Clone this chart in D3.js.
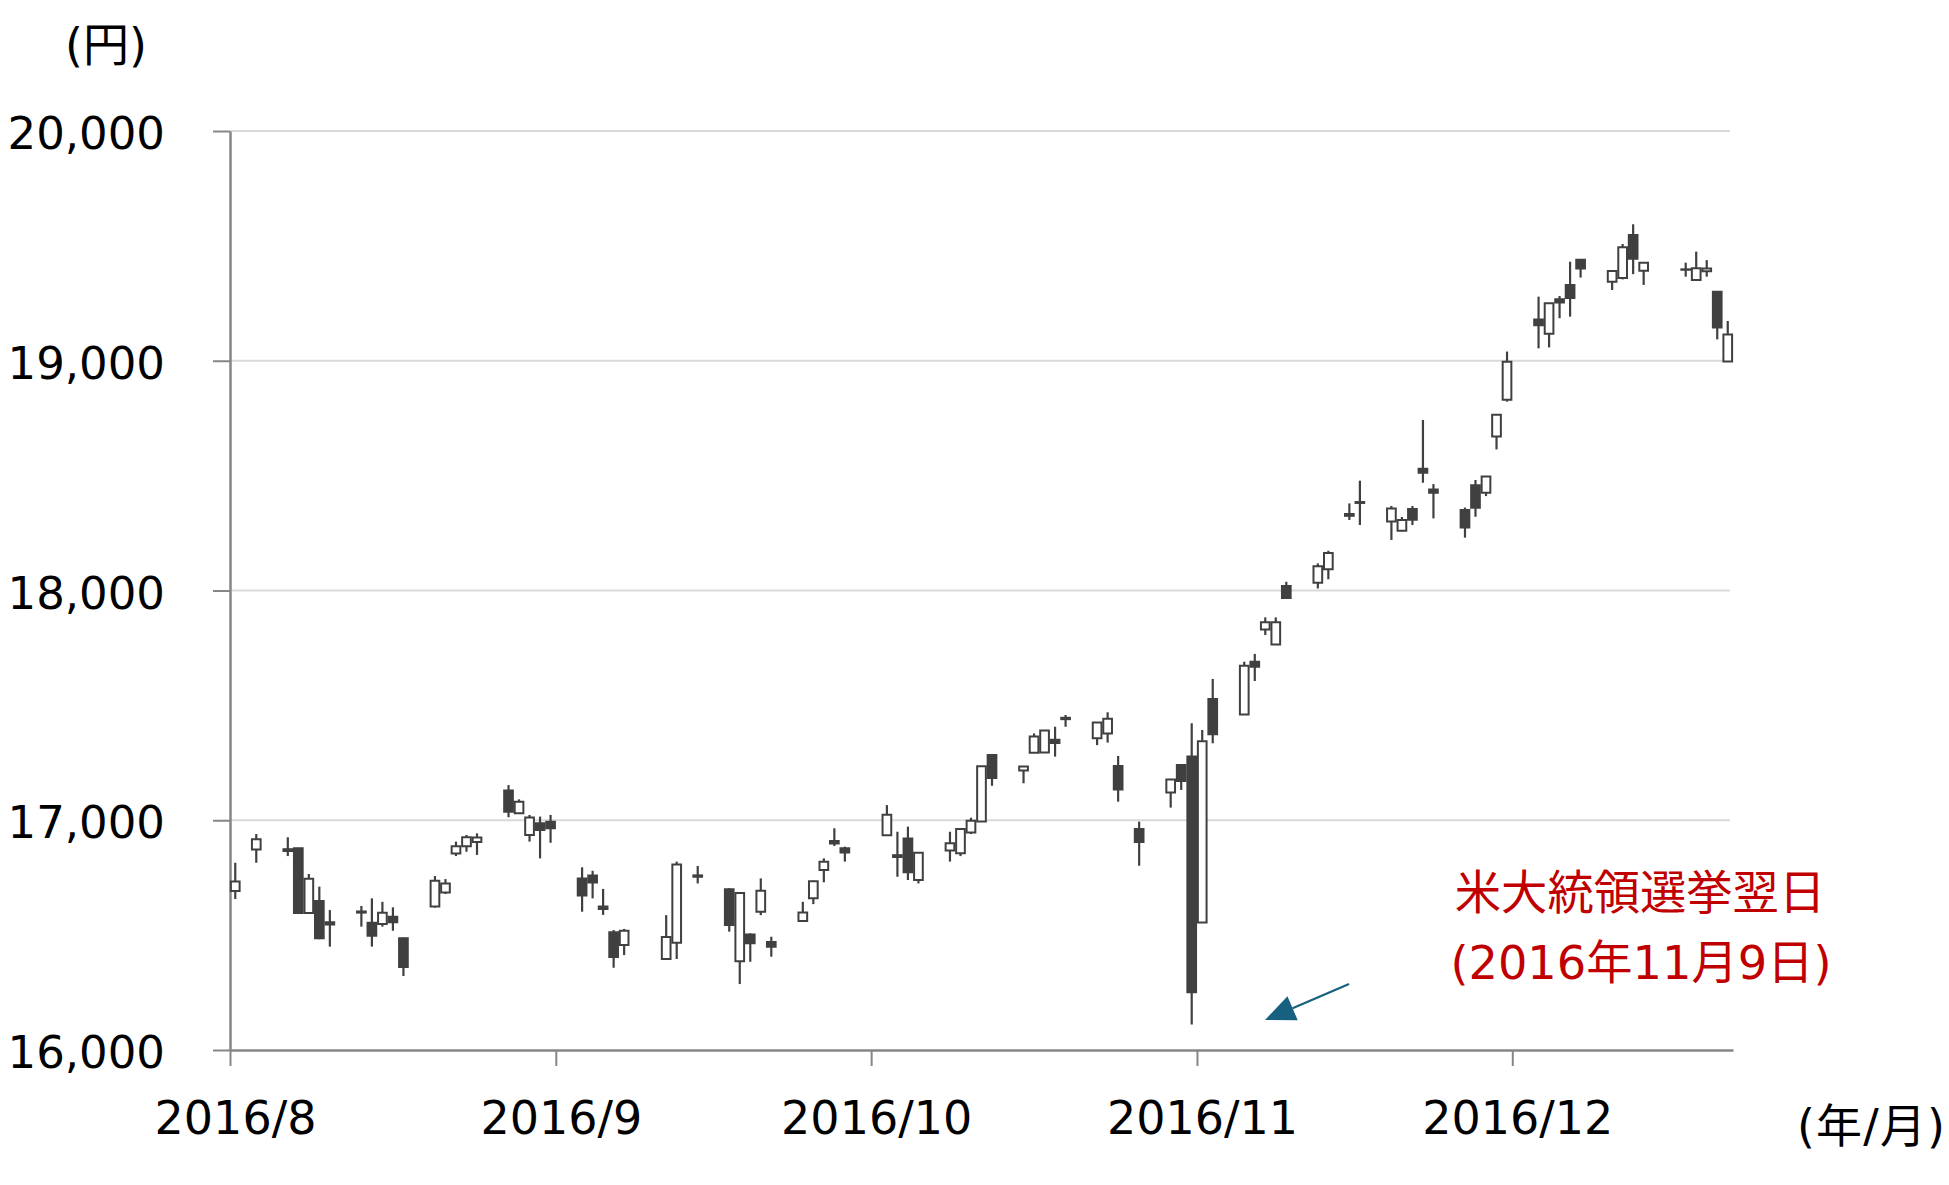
<!DOCTYPE html>
<html><head><meta charset="utf-8">
<script src="https://cdn.jsdelivr.net/npm/d3@7"></script>
<style>body{margin:0;background:#fff}svg{display:block}</style>
</head><body>
<svg id="chart" width="1949" height="1185"></svg>
<script>
// ---- data (Nikkei 225 daily OHLC) ----
const dates = [
"2016-08-10","2016-08-12","2016-08-15","2016-08-16","2016-08-17","2016-08-18","2016-08-19",
"2016-08-22","2016-08-23","2016-08-24","2016-08-25","2016-08-26","2016-08-29","2016-08-30","2016-08-31",
"2016-09-01","2016-09-02","2016-09-05","2016-09-06","2016-09-07","2016-09-08","2016-09-09",
"2016-09-12","2016-09-13","2016-09-14","2016-09-15","2016-09-16","2016-09-20","2016-09-21","2016-09-23",
"2016-09-26","2016-09-27","2016-09-28","2016-09-29","2016-09-30",
"2016-10-03","2016-10-04","2016-10-05","2016-10-06","2016-10-07","2016-10-11","2016-10-12","2016-10-13","2016-10-14",
"2016-10-17","2016-10-18","2016-10-19","2016-10-20","2016-10-21","2016-10-24","2016-10-25","2016-10-26","2016-10-27","2016-10-28","2016-10-31",
"2016-11-01","2016-11-02","2016-11-04","2016-11-07","2016-11-08","2016-11-09","2016-11-10","2016-11-11",
"2016-11-14","2016-11-15","2016-11-16","2016-11-17","2016-11-18","2016-11-21","2016-11-22","2016-11-24","2016-11-25",
"2016-11-28","2016-11-29","2016-11-30",
"2016-12-01","2016-12-02","2016-12-05","2016-12-06","2016-12-07","2016-12-08","2016-12-09",
"2016-12-12","2016-12-13","2016-12-14","2016-12-15","2016-12-16","2016-12-19","2016-12-20","2016-12-21","2016-12-22",
"2016-12-26","2016-12-27","2016-12-28","2016-12-29","2016-12-30"];
const openV = [
16692,16873,16874,16878,16596,16648,16556,
16603,16554,16548,16580,16486,16625,16685,16855,
16887,16905,17130,17030,16936,16987,16994,
16747,16760,16625,16512,16457,16396,16467,16760,
16700,16386,16503,16602,16470,
16562,16660,16783,16910,16878,16935,16848,16921,16740,
16868,16856,16947,16995,17284,17216,17294,17295,17350,17440,17357,
17378,17236,16962,17121,17240,17277,16555,17528,
17460,17690,17830,17765,18020,18034,18092,18325,18385,
18300,18260,18355,
18530,18440,18350,18458,18426,18670,18830,
19180,19117,19268,19330,19440,19344,19360,19547,19392,
19398,19352,19390,19300,18997];
const highV = [
16815,16940,16926,16880,16766,16711,16609,
16627,16660,16645,16621,16490,16757,16744,16907,
16936,16943,17153,17091,17023,17016,17023,
16795,16780,16701,16522,16527,16587,16820,16801,
16704,16683,16508,16747,16493,
16645,16737,16834,16965,16885,17066,16950,16972,16862,
16950,16963,17011,17236,17288,17236,17378,17391,17407,17458,17426,
17470,17280,16994,17180,17240,17422,17393,17615,
17690,17724,17883,17883,18038,18118,18173,18379,18478,
18368,18320,18368,
18742,18463,18361,18481,18498,18766,19040,
19279,19250,19282,19431,19441,19395,19508,19594,19427,
19427,19475,19438,19301,19173];
const lowV = [
16657,16815,16844,16592,16595,16482,16450,
16537,16450,16537,16519,16322,16620,16679,16844,
16863,16849,17013,17028,16907,16834,16902,
16602,16660,16588,16358,16413,16396,16396,16725,
16515,16287,16384,16587,16406,
16561,16635,16730,16888,16820,16933,16754,16740,16725,
16820,16844,16940,16994,17150,17161,17294,17294,17277,17407,17327,
17338,17081,16802,17055,17132,16111,16554,17335,
17458,17606,17806,17763,17966,18009,18049,18307,18285,
18220,18258,18285,
18469,18314,18230,18321,18411,18614,18822,
19054,19058,19185,19192,19362,19308,19354,19377,19330,
19366,19351,19366,19093,18996];
const closeV = [
16733,16917,16866,16596,16745,16486,16546,
16598,16497,16597,16556,16361,16737,16725,16887,
16926,16925,17037,17081,17012,16958,16965,
16672,16729,16614,16405,16519,16492,16807,16754,
16544,16683,16465,16693,16449,
16598,16735,16819,16899,16860,17024,16840,16774,16859,
16900,16962,16998,17235,17184,17234,17365,17391,17336,17446,17425,
17442,17134,16905,17177,17171,16251,17344,17374,
17672,17668,17862,17862,17967,18106,18163,18333,18381,
18357,18307,18308,
18513,18426,18274,18360,18496,18765,18996,
19155,19250,19253,19273,19401,19391,19494,19444,19427,
19396,19403,19401,19145,19114];

const yTicks = [16000, 17000, 18000, 19000, 20000];
const tickDates = ["2016-08-10","2016-09-10","2016-10-10","2016-11-10","2016-12-10"];
const tickLabels = ["2016/8","2016/9","2016/10","2016/11","2016/12"];
const xDomain = ["2016-08-10","2016-12-31"];
const yDomain = [16000, 20000];

// ---- layout / style ----
const FONT = "'DejaVu Sans','Noto Sans CJK JP',sans-serif";
const CANDLE = "#404040";
const svg = d3.select("#chart");
const parse = d3.utcParse("%Y-%m-%d");

const x = d3.scaleUtc().domain(xDomain.map(parse)).range([230, 1733]);
const y = d3.scaleLinear().domain(yDomain).range([1050, 131]);
const dayW = x(parse("2016-08-11")) - x(parse("2016-08-10"));

// gridlines
svg.append("g").selectAll("line").data(yTicks.filter(v => v > yDomain[0])).join("line")
  .attr("x1", 230).attr("x2", 1730)
  .attr("y1", d => y(d)).attr("y2", d => y(d))
  .attr("stroke", "#d9d9d9").attr("stroke-width", 2);

// y axis
const gy = svg.append("g").attr("transform", "translate(230,0)")
  .call(d3.axisLeft(y).tickValues(yTicks).tickSize(17).tickSizeOuter(0).tickPadding(48).tickFormat(d3.format(",")));
gy.select(".domain").attr("stroke", "#868686").attr("stroke-width", 2.5);
gy.selectAll(".tick line").attr("stroke", "#868686").attr("stroke-width", 2);
gy.selectAll(".tick text").attr("font-family", FONT).attr("font-size", 45).attr("fill", "#000").attr("dy", "0.39em");

// x axis
const gx = svg.append("g").attr("transform", "translate(0,1050)")
  .call(d3.axisBottom(x).tickValues(tickDates.map(parse)).tickSize(16).tickSizeOuter(0).tickPadding(35)
    .tickFormat((d, i) => tickLabels[i]));
gx.select(".domain").attr("stroke", "#868686").attr("stroke-width", 2.5);
gx.selectAll(".tick line").attr("stroke", "#868686").attr("stroke-width", 2);
gx.selectAll(".tick text").attr("font-family", FONT).attr("font-size", 46).attr("fill", "#000").attr("dx", 5);

// candles
const rows = dates.map((d, i) => ({date: parse(d), o: openV[i], h: highV[i], l: lowV[i], c: closeV[i]}));
const cx = d => x(d.date) + dayW / 2;
const bw = 8.7;
const gc = svg.append("g");
gc.selectAll("line").data(rows).join("line")
  .attr("x1", cx).attr("x2", cx)
  .attr("y1", d => y(d.h)).attr("y2", d => y(d.l))
  .attr("stroke", CANDLE).attr("stroke-width", 2.2);
gc.selectAll("path").data(rows).join("path")
  .attr("d", d => {
    const x0 = cx(d) - bw / 2, x1 = cx(d) + bw / 2;
    const y0 = y(Math.max(d.o, d.c)), y1 = y(Math.min(d.o, d.c));
    return `M${x0},${y0}H${x1}V${y1}H${x0}Z`;
  })
  .attr("fill", d => d.c >= d.o ? "#fff" : CANDLE)
  .attr("stroke", CANDLE).attr("stroke-width", 2);

// unit labels
svg.append("text").attr("x", 65).attr("y", 61).attr("font-family", FONT).attr("font-size", 46).text("(円)");
svg.append("text").attr("x", 1797).attr("y", 1142)
  .attr("textLength", 148).attr("lengthAdjust", "spacing")
  .attr("font-family", FONT).attr("font-size", 46).text("(年/月)");

// annotation
const ann = svg.append("g").attr("font-family", FONT).attr("font-size", 46.3).attr("fill", "#C00000").attr("text-anchor", "middle");
ann.append("text").attr("x", 1640).attr("y", 909).text("米大統領選挙翌日");
ann.append("text").attr("x", 1641).attr("y", 979).text("(2016年11月9日)");

const arrowColor = "#17607f";
const tip = [1265, 1020], start = [1349, 984];
const dx = tip[0] - start[0], dy = tip[1] - start[1], len = Math.hypot(dx, dy);
const ux = dx / len, uy = dy / len, headL = 30, headW = 13;
const base = [tip[0] - ux * headL, tip[1] - uy * headL];
svg.append("line").attr("x1", start[0]).attr("y1", start[1]).attr("x2", base[0]).attr("y2", base[1])
  .attr("stroke", arrowColor).attr("stroke-width", 2.2);
svg.append("path")
  .attr("d", `M${tip[0]},${tip[1]}L${base[0] - uy * headW},${base[1] + ux * headW}L${base[0] + uy * headW},${base[1] - ux * headW}Z`)
  .attr("fill", arrowColor);
</script>
</body></html>
